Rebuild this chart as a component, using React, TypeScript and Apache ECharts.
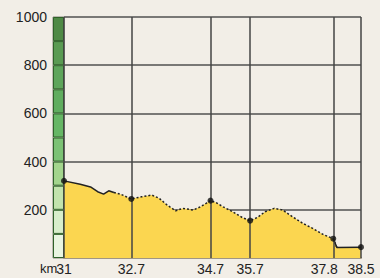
import React, { useEffect, useRef } from "react";
import * as echarts from "echarts";

const profileKm = [31.0, 31.41, 31.67, 31.85, 32.0, 32.13, 32.26, 32.44, 32.7, 32.96, 33.22, 33.4, 33.61, 33.82, 34.0, 34.26, 34.44, 34.6, 34.7, 34.85, 35.02, 35.26, 35.5, 35.7, 35.88, 36.08, 36.31, 36.52, 36.77, 37.03, 37.28, 37.54, 37.8, 37.89, 38.5];
const profileElev = [320, 306, 295, 275, 265, 279, 272, 264, 245, 254, 261, 248, 219, 196, 206, 199, 212, 228, 238, 229, 212, 192, 168, 155, 168, 192, 206, 199, 171, 144, 123, 98, 80, 44, 45];
const markKm = [31, 32.7, 34.7, 35.7, 37.8, 38.5];
const markElev = [320, 245, 238, 155, 80, 45];
const yTicks = [0, 200, 400, 600, 800, 1000];
const scaleSteps = [100, 100, 100, 100, 100, 100, 100, 100, 100, 100];
const scaleColors = ["#e9f5e1", "#d8eecb", "#c2e3ad", "#a3d58d", "#7cc275", "#66b665", "#60ad5f", "#5ea55b", "#5a9b53", "#4f8a46"];

const FONT = "'Liberation Sans', Arial, sans-serif";

export default function App() {
  const ref = useRef<HTMLDivElement>(null);
  useEffect(() => {
    if (!ref.current) return;
    const chart = echarts.init(ref.current, undefined, { renderer: "svg" });
    const pts = profileKm.map((k, i) => [k, profileElev[i]]);
    const solidA = pts.slice(0, 7);
    const dotted = pts.slice(6, 34);
    const solidB = pts.slice(32);
    const scaleSeries = scaleSteps.map((v, i) => ({
      type: "bar",
      xAxisIndex: 1,
      yAxisIndex: 1,
      stack: "scale",
      barWidth: "100%",
      data: [v],
      itemStyle: { color: scaleColors[i], borderColor: "#2f6229", borderWidth: 1 },
      silent: true,
      z: 1,
    }));
    chart.setOption({
      animation: false,
      grid: [
        { left: 64, right: 19, top: 17, bottom: 20 },
        { left: 53, width: 11, top: 17, bottom: 20, show: true, borderColor: "#8a8a80", borderWidth: 1 },
      ],
      xAxis: [
        {
          type: "value",
          gridIndex: 0,
          min: 31,
          max: 38.5,
          axisLine: { show: true, lineStyle: { color: "#a09684", width: 2 } },
          axisTick: { show: false },
          splitLine: { show: false },
          axisLabel: {
            customValues: markKm,
            color: "#222",
            fontSize: 14,
            fontFamily: FONT,
            margin: 4,
            formatter: (v: number) => (v === 37.8 ? "{l|" + String(v) + "}" : String(v)),
            rich: {
              l: { color: "#222", fontSize: 14, fontFamily: FONT, padding: [0, 18, 0, 0] },
            },
          },
        },
        {
          type: "category",
          gridIndex: 1,
          data: ["s"],
          show: false,
        },
      ],
      yAxis: [
        {
          type: "value",
          gridIndex: 0,
          min: 0,
          max: 1000,
          interval: 200,
          axisLine: { show: false },
          axisTick: { show: false },
          splitLine: { show: true, lineStyle: { color: "#505050", width: 1.5 } },
          axisLabel: {
            color: "#222",
            fontSize: 14,
            fontFamily: FONT,
            margin: 17,
            formatter: (v: number) => (yTicks.indexOf(v) > 0 ? String(v) : ""),
          },
        },
        {
          type: "value",
          gridIndex: 1,
          min: 0,
          max: 1000,
          interval: 100,
          axisLine: { show: false },
          axisTick: { show: false },
          axisLabel: { show: false },
          splitLine: { show: false },
        },
      ],
      graphic: [
        {
          type: "text",
          left: 40,
          top: 262,
          style: { text: "km", fill: "#222", fontSize: 13, fontFamily: FONT },
        },
      ],
      series: [
        {
          type: "line",
          data: pts,
          showSymbol: false,
          lineStyle: { width: 0 },
          areaStyle: { color: "#fbd650", opacity: 1 },
          z: 2,
          silent: true,
        },
        {
          type: "line",
          data: solidA,
          showSymbol: false,
          lineStyle: { color: "#222", width: 1.5 },
          z: 4,
        },
        {
          type: "line",
          data: dotted,
          showSymbol: false,
          lineStyle: { color: "#222", width: 1.5, type: [2, 2] },
          z: 4,
        },
        {
          type: "line",
          data: solidB,
          showSymbol: false,
          lineStyle: { color: "#222", width: 1.5 },
          z: 4,
          markLine: {
            silent: true,
            symbol: "none",
            label: { show: false },
            lineStyle: { color: "#444", width: 1.5, type: "solid" },
            data: markKm.map((k) => ({ xAxis: k })),
          },
        },
        {
          type: "scatter",
          data: markKm.map((k, i) => [k, markElev[i]]),
          symbolSize: 6,
          itemStyle: { color: "#111" },
          z: 6,
        },
        ...scaleSeries,
      ],
    });
    return () => chart.dispose();
  }, []);
  return (
    <div
      style={{ position: "absolute", left: 0, top: 0, width: 380, height: 278, background: "#f2eee7" }}
    >
      <div ref={ref} style={{ width: 380, height: 278 }} />
    </div>
  );
}
